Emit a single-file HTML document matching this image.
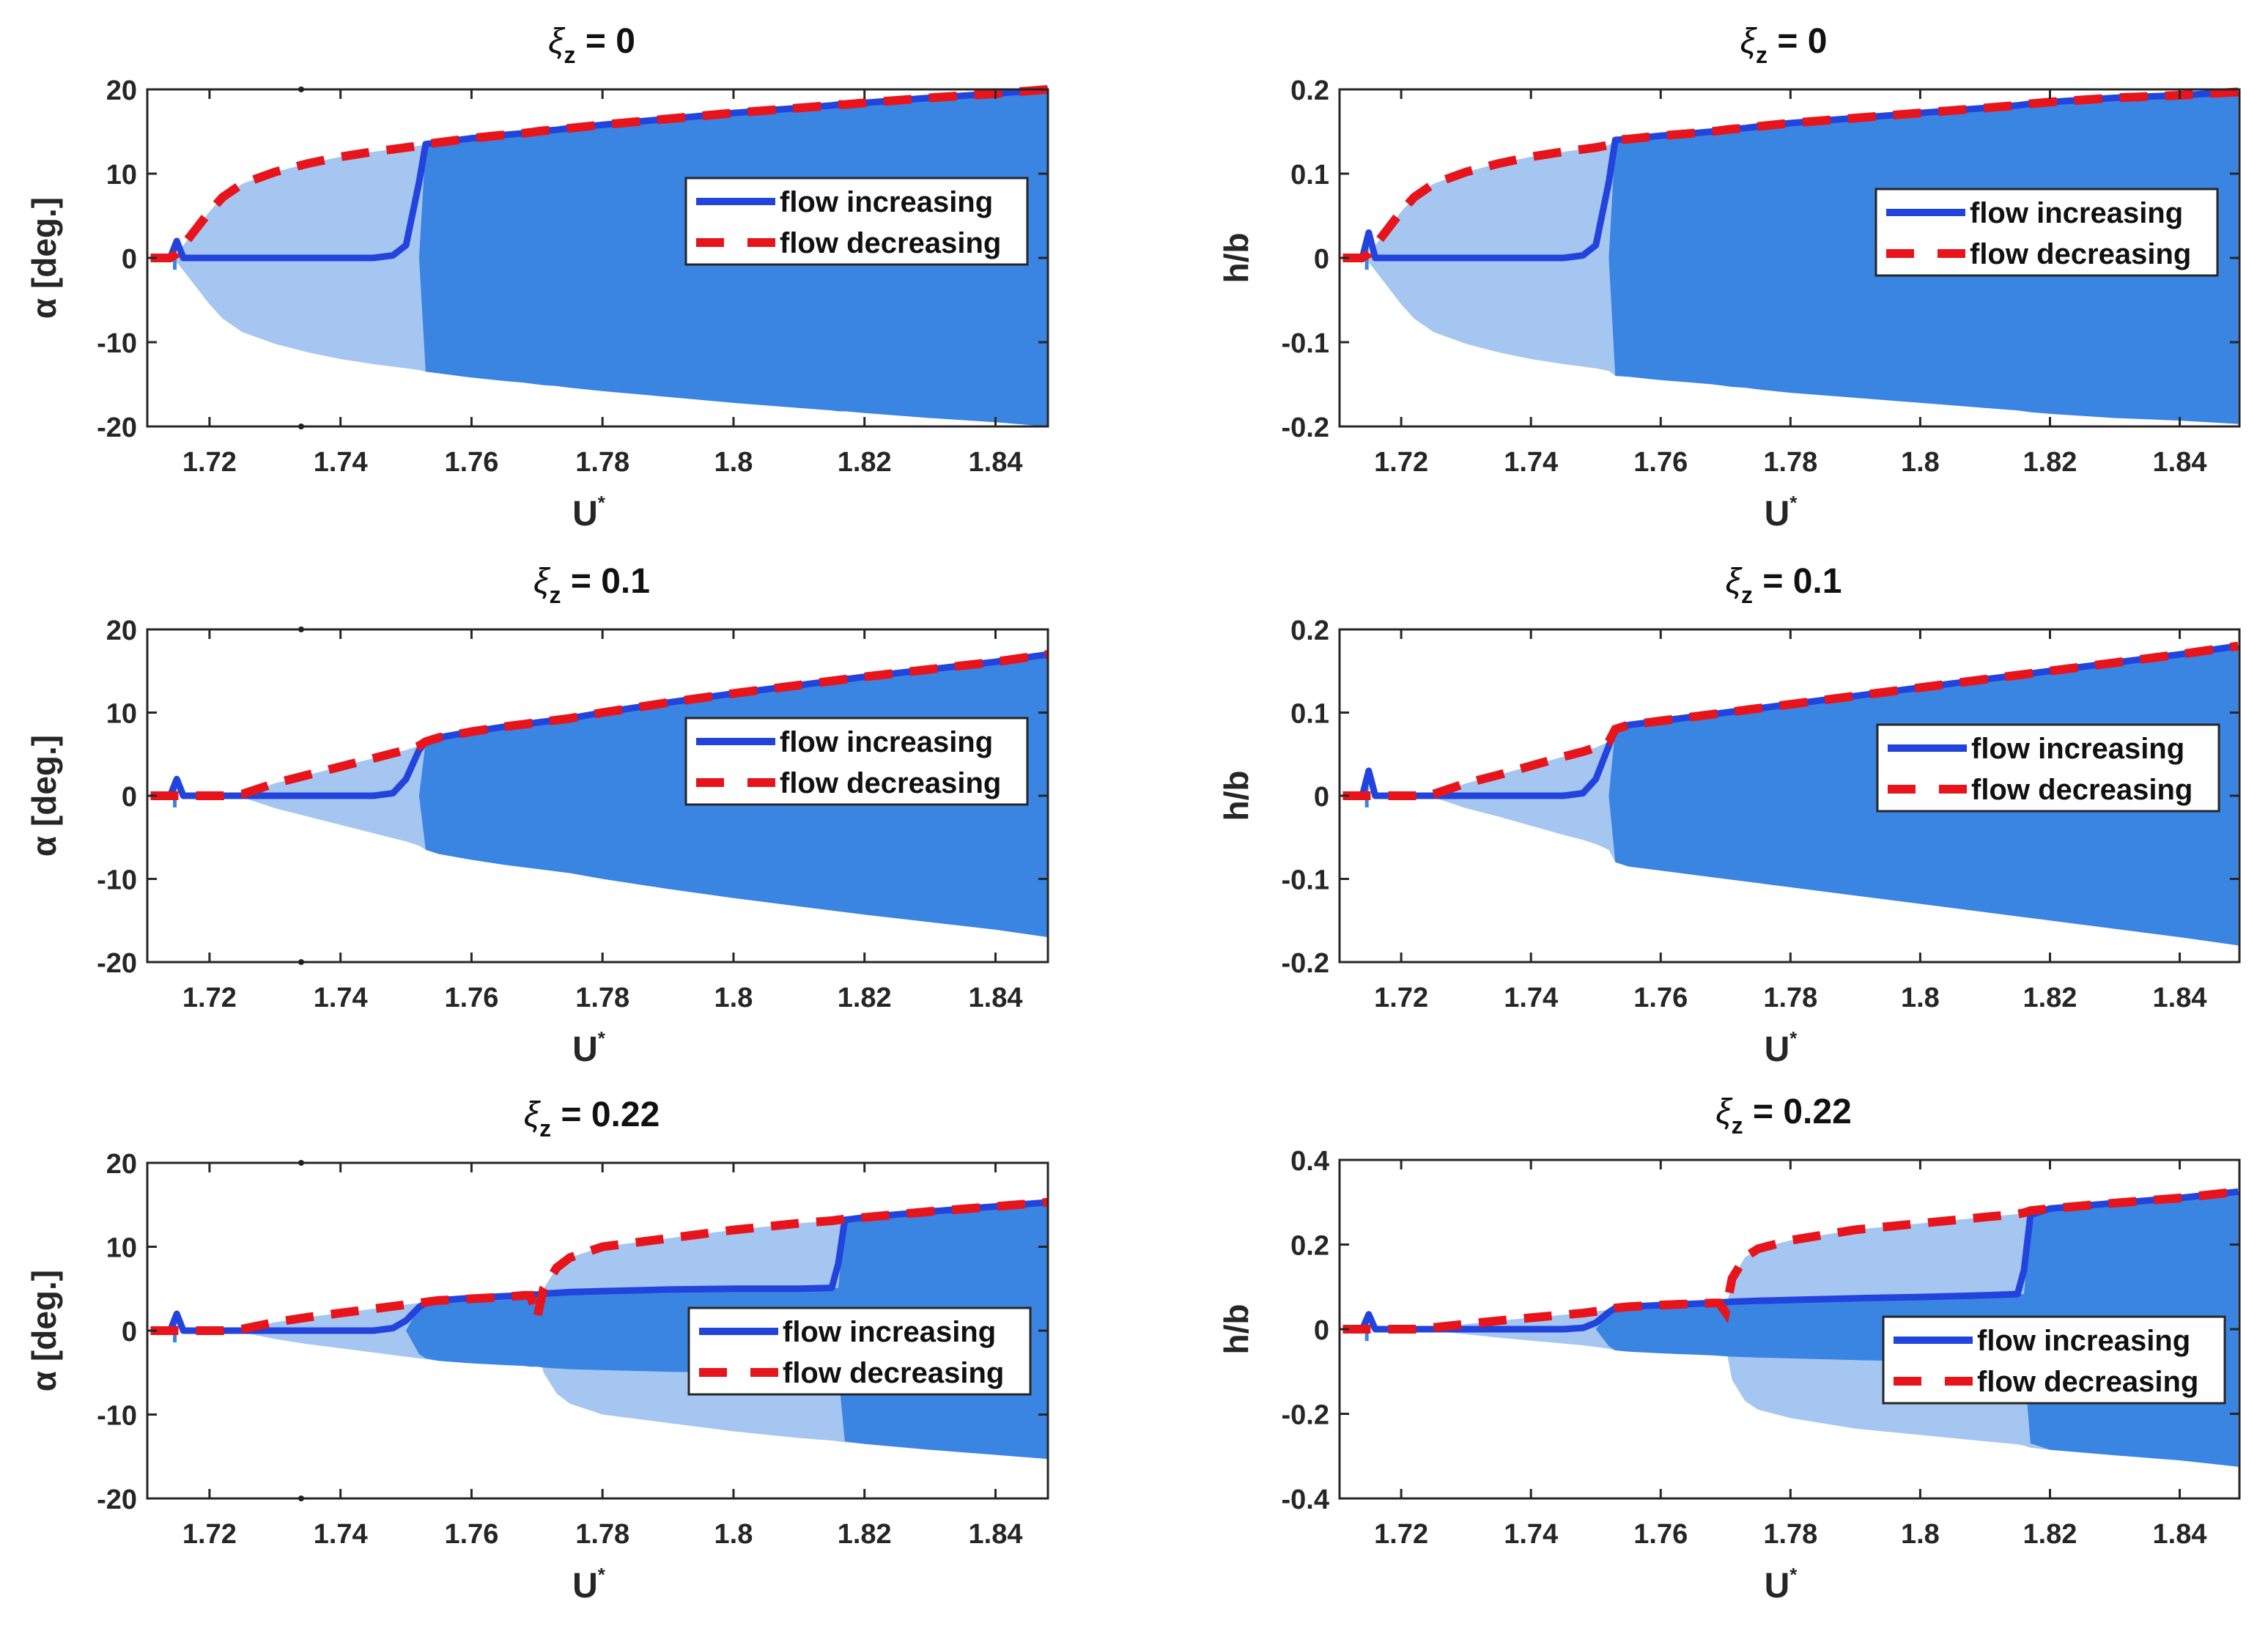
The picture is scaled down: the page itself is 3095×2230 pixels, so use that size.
<!DOCTYPE html>
<html><head><meta charset="utf-8"><style>
html,body{margin:0;padding:0;background:#fff;}
body{width:3095px;height:2230px;position:relative;overflow:hidden;font-family:"Liberation Sans",sans-serif;}
svg{position:absolute;left:0;top:0;}
</style></head><body>
<svg id="fig" width="3095" height="2230" viewBox="0 0 3095 2230" xmlns="http://www.w3.org/2000/svg"></svg>
<script>
const X = [1.711,1.714,1.715,1.716,1.718,1.72,1.722,1.725,1.73,1.735,1.74,1.745,1.748,1.75,1.752,1.753,1.755,1.76,1.765,1.768,1.769,1.77,1.771,1.773,1.775,1.78,1.79,1.8,1.81,1.815,1.816,1.817,1.82,1.83,1.84,1.849];
const a1Env = [0,0,0.5,1.5,3.5,5.5,7.2,8.8,10.2,11.2,12,12.6,12.9,13.1,13.3,13.5,13.7,14.2,14.6,14.8,14.9,15,15.1,15.2,15.4,15.8,16.5,17.2,17.8,18.1,18.2,18.2,18.4,19,19.5,20];
const a1Inc = [null,0,2,0,0,0,0,0,0,0,0,0,0.3,1.5,9,13.5,13.7,14.2,14.6,14.8,14.9,15,15.1,15.2,15.4,15.8,16.5,17.2,17.8,18.1,18.2,18.2,18.4,19,19.5,20];
const a1Dark = [0,0,0,0,0,0,0,0,0,0,0,0,0,0,0,13.5,13.7,14.2,14.6,14.8,14.9,15,15.1,15.2,15.4,15.8,16.5,17.2,17.8,18.1,18.2,18.2,18.4,19,19.5,20];
const a2Env = [0,0,0,0,0,0,0,0.2,1.5,2.5,3.5,4.5,5.1,5.5,6,6.5,7,7.7,8.3,8.6,8.7,8.8,8.9,9.1,9.3,10,11.2,12.3,13.3,13.8,13.9,14,14.3,15.2,16.1,17];
const a2Inc = [null,0,2,0,0,0,0,0,0,0,0,0,0.3,2,5.5,6.5,7,7.7,8.3,8.6,8.7,8.8,8.9,9.1,9.3,10,11.2,12.3,13.3,13.8,13.9,14,14.3,15.2,16.1,17];
const a2Dark = [0,0,0,0,0,0,0,0,0,0,0,0,0,0,0,6.5,7,7.7,8.3,8.6,8.7,8.8,8.9,9.1,9.3,10,11.2,12.3,13.3,13.8,13.9,14,14.3,15.2,16.1,17];
const a3Env = [0,0,0,0,0,0,0,0.2,1,1.6,2.1,2.6,2.9,3.1,3.3,3.4,3.6,3.8,4,4.2,4.2,1.5,5,7.5,8.7,10,11,12,12.8,13.1,13.2,13.3,13.5,14.2,14.8,15.3];
const a3Inc = [null,0,2,0,0,0,0,0,0,0,0,0,0.3,1.2,2.8,3.3,3.6,3.9,4.1,4.2,4.3,4.3,4.4,4.5,4.6,4.7,4.9,5,5,5.1,8,13.2,13.5,14.2,14.8,15.3];
const a3Dark = [0,0,0,0,0,0,0,0,0,0,0,0,0,0,2.8,3.3,3.6,3.9,4.1,4.2,4.3,4.3,4.4,4.5,4.6,4.7,4.9,5,5,5.1,5.1,13.2,13.5,14.2,14.8,15.3];
const b1Env = [0,0,0.005,0.015,0.035,0.055,0.072,0.088,0.102,0.112,0.12,0.126,0.129,0.131,0.134,0.14,0.141,0.145,0.148,0.15,0.151,0.152,0.153,0.154,0.156,0.16,0.166,0.172,0.178,0.181,0.182,0.183,0.185,0.19,0.193,0.197];
const b1Inc = [null,0,0.03,0,0,0,0,0,0,0,0,0,0.003,0.015,0.09,0.14,0.141,0.145,0.148,0.15,0.151,0.152,0.153,0.154,0.156,0.16,0.166,0.172,0.178,0.181,0.182,0.183,0.185,0.19,0.193,0.197];
const b1Dark = [0,0,0,0,0,0,0,0,0,0,0,0,0,0,0,0.14,0.141,0.145,0.148,0.15,0.151,0.152,0.153,0.154,0.156,0.16,0.166,0.172,0.178,0.181,0.182,0.183,0.185,0.19,0.193,0.197];
const b2Env = [0,0,0,0,0,0,0,0.002,0.015,0.025,0.036,0.047,0.053,0.058,0.065,0.08,0.085,0.09,0.095,0.098,0.099,0.1,0.101,0.103,0.105,0.11,0.12,0.13,0.14,0.145,0.146,0.147,0.15,0.16,0.17,0.18];
const b2Inc = [null,0,0.03,0,0,0,0,0,0,0,0,0,0.003,0.02,0.06,0.08,0.085,0.09,0.095,0.098,0.099,0.1,0.101,0.103,0.105,0.11,0.12,0.13,0.14,0.145,0.146,0.147,0.15,0.16,0.17,0.18];
const b2Dark = [0,0,0,0,0,0,0,0,0,0,0,0,0,0,0,0.08,0.085,0.09,0.095,0.098,0.099,0.1,0.101,0.103,0.105,0.11,0.12,0.13,0.14,0.145,0.146,0.147,0.15,0.16,0.17,0.18];
const b3Env = [0,0,0,0,0,0,0,0.004,0.012,0.02,0.027,0.034,0.038,0.042,0.046,0.05,0.053,0.057,0.06,0.062,0.062,0.04,0.12,0.17,0.19,0.21,0.235,0.25,0.265,0.272,0.275,0.28,0.285,0.298,0.31,0.325];
const b3Inc = [null,0,0.035,0,0,0,0,0,0,0,0,0,0.003,0.015,0.04,0.05,0.053,0.057,0.06,0.062,0.063,0.064,0.065,0.066,0.067,0.069,0.073,0.076,0.08,0.083,0.14,0.27,0.285,0.298,0.31,0.325];
const b3Dark = [0,0,0,0,0,0,0,0,0,0,0,0,0,0,0.04,0.05,0.053,0.057,0.06,0.062,0.063,0.064,0.065,0.066,0.067,0.069,0.073,0.076,0.08,0.083,0.083,0.27,0.285,0.298,0.31,0.325];
const xTicks = [1.72,1.74,1.76,1.78,1.8,1.82,1.84];
const xTickLabels = ["1.72","1.74","1.76","1.78","1.8","1.82","1.84"];
const yTicksA = [-20,-10,0,10,20];
const yTickLabelsA = ["-20","-10","0","10","20"];
const yTicksB = [-0.2,-0.1,0,0.1,0.2];
const yTickLabelsB = ["-0.2","-0.1","0","0.1","0.2"];
const yTicksB3 = [-0.4,-0.2,0,0.2,0.4];
const yTickLabelsB3 = ["-0.4","-0.2","0","0.2","0.4"];

const NS = "http://www.w3.org/2000/svg";
const svg = document.getElementById('fig');
function mk(tag, attrs, parent){const e=document.createElementNS(NS,tag);for(const k in attrs)e.setAttribute(k,attrs[k]);(parent||svg).appendChild(e);return e;}

const panels = [
 {id:'alpha-xi0',L:201,R:1430,xmax:1.848,T:122,B:582,ylim:[-20,20],yt:yTicksA,ytl:yTickLabelsA,ylab:'α [deg.]',xi:'0',env:a1Env,inc:a1Inc,dark:a1Dark,lg:[936,243]},
 {id:'alpha-xi01',L:201,R:1430,xmax:1.848,T:859,B:1313,ylim:[-20,20],yt:yTicksA,ytl:yTickLabelsA,ylab:'α [deg.]',xi:'0.1',env:a2Env,inc:a2Inc,dark:a2Dark,lg:[936,980]},
 {id:'alpha-xi022',L:201,R:1430,xmax:1.848,T:1587,B:2045,ylim:[-20,20],yt:yTicksA,ytl:yTickLabelsA,ylab:'α [deg.]',xi:'0.22',env:a3Env,inc:a3Inc,dark:a3Dark,lg:[940,1785]},
 {id:'hb-xi0',L:1828,R:3056,xmax:1.8492,T:122,B:582,ylim:[-0.2,0.2],yt:yTicksB,ytl:yTickLabelsB,ylab:'h/b',xi:'0',env:b1Env,inc:b1Inc,dark:b1Dark,lg:[2560,258]},
 {id:'hb-xi01',L:1828,R:3056,xmax:1.8492,T:859,B:1313,ylim:[-0.2,0.2],yt:yTicksB,ytl:yTickLabelsB,ylab:'h/b',xi:'0.1',env:b2Env,inc:b2Inc,dark:b2Dark,lg:[2562,989]},
 {id:'hb-xi022',L:1828,R:3056,xmax:1.8492,T:1583,B:2045,ylim:[-0.4,0.4],yt:yTicksB3,ytl:yTickLabelsB3,ylab:'h/b',xi:'0.22',env:b3Env,inc:b3Inc,dark:b3Dark,lg:[2570,1797]}
];
const XMIN=1.7105;
const LIGHT='#a4c6f1', DARK='#3a84e2', BLUE='#2244dd', RED='#e8141c';

panels.forEach(p=>{
  const XMAX=p.xmax;
  const sx=v=>p.L+(Math.min(v,XMAX)-XMIN)/(XMAX-XMIN)*(p.R-p.L);
  const sy=v=>p.B-(v-p.ylim[0])/(p.ylim[1]-p.ylim[0])*(p.B-p.T);
  const g=mk('g',{});
  
  
  function band(arr, color, name, start){
    let up=[],lo=[];
    for(let i=start;i<X.length;i++){up.push(sx(X[i])+','+sy(arr[i]));lo.unshift(sx(X[i])+','+sy(-arr[i]));}
    const pg=mk('polygon',{points:up.concat(lo).join(' '),fill:color,stroke:'none'},g);
    
    
  }
  band(p.env, LIGHT, 'light-oscillation-band', 2);
  band(p.dark, DARK, 'dark-oscillation-band', 2);
  let d='';
  p.inc.forEach((v,i)=>{if(v===null)return;d+=(d?'L':'M')+sx(X[i])+','+sy(v);});
  const spike=mk('line',{x1:sx(1.7147),x2:sx(1.7147),y1:sy(p.ylim[1]*0.09),y2:sy(-p.ylim[1]*0.07),stroke:DARK,'stroke-width':5},g);
  
  
  const inc=mk('path',{d:d,fill:'none',stroke:BLUE,'stroke-width':9,'stroke-linejoin':'round'},g);
  
  
  let d2='';
  p.env.forEach((v,i)=>{d2+=(i?'L':'M')+sx(X[i])+','+sy(v);});
  const dec=mk('path',{d:d2,fill:'none',stroke:RED,'stroke-width':12,'stroke-dasharray':'38 24'},g);
  
  
  const fr=mk('rect',{x:p.L,y:p.T,width:p.R-p.L,height:p.B-p.T,fill:'none',stroke:'#262626','stroke-width':3},g);
  
  
  xTicks.forEach((t,i)=>{
    const x=sx(t);
    mk('line',{x1:x,x2:x,y1:p.B,y2:p.B-13,stroke:'#262626','stroke-width':3},g);
    mk('line',{x1:x,x2:x,y1:p.T,y2:p.T+13,stroke:'#262626','stroke-width':3},g);
    const tx=mk('text',{x:x,y:p.B+61,'text-anchor':'middle','font-size':38,'font-weight':'bold',fill:'#262626'},g);
    tx.textContent=xTickLabels[i];
    
    
  });
  p.yt.forEach((t,i)=>{
    const y=sy(t);
    mk('line',{x1:p.L,x2:p.L+13,y1:y,y2:y,stroke:'#262626','stroke-width':3},g);
    mk('line',{x1:p.R,x2:p.R-13,y1:y,y2:y,stroke:'#262626','stroke-width':3},g);
    const ty=mk('text',{x:p.L-14,y:y+14,'text-anchor':'end','font-size':38,'font-weight':'bold',fill:'#262626'},g);
    ty.textContent=p.ytl[i];
    
    
  });
  if(p.L<1000){
    [p.T,p.B].forEach(yy=>{const c=mk('circle',{cx:411,cy:yy,r:4,fill:'#222'},g);
      });
  }
  const cx=(p.L+p.R)/2;
  const xl=mk('text',{x:cx-12,y:p.B+135,'text-anchor':'middle','font-size':48,'font-weight':'bold',fill:'#262626'},g);
  xl.innerHTML='U<tspan dy="-22" font-size="26">*</tspan>';
  
  
  const ylx=p.L-125, yly=(p.T+p.B)/2;
  const yl=mk('text',{x:ylx,y:yly,'text-anchor':'middle','font-size':46,'font-weight':'bold',fill:'#262626',transform:`rotate(-90 ${ylx} ${yly})`},g);
  yl.textContent=p.ylab;
  
  
  const tt=mk('text',{x:cx-8,y:p.T-50,'text-anchor':'middle','font-size':48,'font-weight':'bold',fill:'#111'},g);
  tt.innerHTML='<tspan font-style="italic" font-weight="normal">ξ</tspan><tspan dy="14" font-size="32">z</tspan><tspan dy="-14"> = '+p.xi+'</tspan>';
  
  
  const [lx,ly]=p.lg;
  const lgG=mk('g',{},g);
  
  
  mk('rect',{x:lx,y:ly,width:466,height:118,fill:'#fff',stroke:'#262626','stroke-width':3},lgG);
  mk('line',{x1:lx+14,x2:lx+122,y1:ly+32,y2:ly+32,stroke:BLUE,'stroke-width':10},lgG);
  mk('line',{x1:lx+14,x2:lx+122,y1:ly+88,y2:ly+88,stroke:RED,'stroke-width':12,'stroke-dasharray':'38 32'},lgG);
  const t1=mk('text',{x:lx+128,y:ly+46,'font-size':40,'font-weight':'bold',fill:'#111'},lgG);
  t1.textContent='flow increasing';
  
  
  const t2=mk('text',{x:lx+128,y:ly+102,'font-size':40,'font-weight':'bold',fill:'#111'},lgG);
  t2.textContent='flow decreasing';
  
  
});
</script>
</body></html>
